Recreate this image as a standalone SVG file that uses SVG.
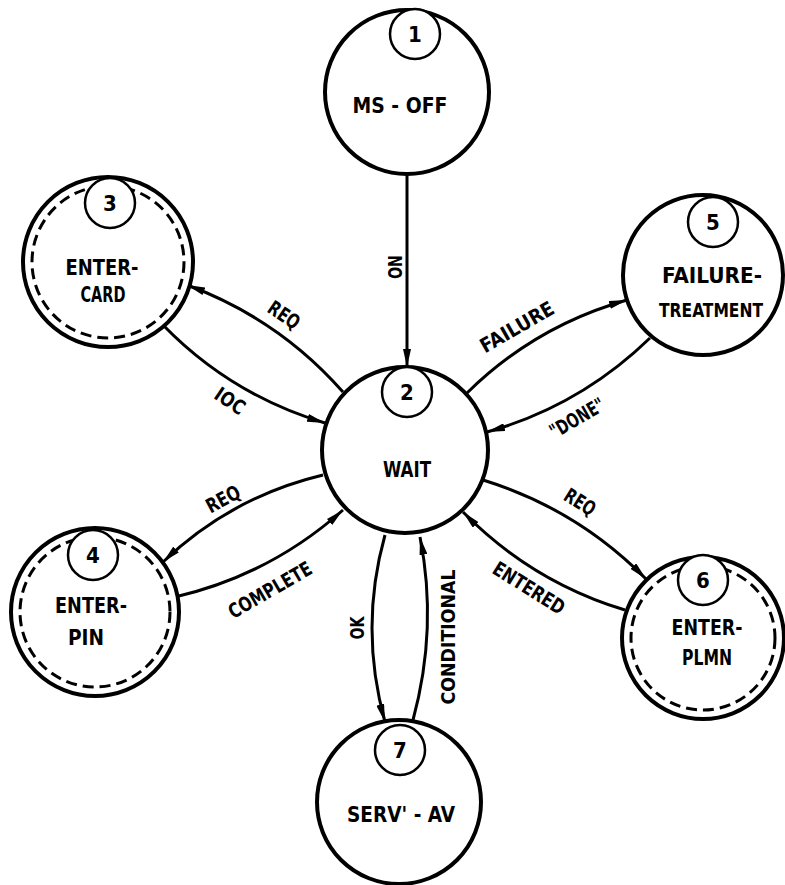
<svg xmlns="http://www.w3.org/2000/svg" width="785" height="885" viewBox="0 0 785 885">
<style>
.main{fill:#fff;stroke:#000;stroke-width:4}
.dash{fill:none;stroke:#000;stroke-width:3;stroke-dasharray:11 6}
.num{fill:#fff;stroke:#000;stroke-width:2.5}
text{font-family:"DejaVu Sans Condensed","DejaVu Sans","Liberation Sans",sans-serif;font-stretch:condensed;font-weight:bold;fill:#000}
.nl{font-size:22px;text-anchor:middle}
.nn{font-size:22px;text-anchor:middle}
.el{font-size:20px;text-anchor:middle}
.edge{fill:none;stroke:#000;stroke-width:3;marker-end:url(#arr)}
</style>
<defs>
<marker id="arr" viewBox="0 0 18 8" refX="18" refY="4" markerWidth="18" markerHeight="8" markerUnits="userSpaceOnUse" orient="auto">
<path d="M0,0 L18,4 L0,8 z" fill="#000"/>
</marker>
</defs>

<g id="connectors">
<path class="edge" d="M407,174 L407,367"/>
<path class="edge" d="M343,392 Q279,319 187,285"/>
<path class="edge" d="M163,325 Q231,395 325,423"/>
<path class="edge" d="M467,393 Q535,326 627,300"/>
<path class="edge" d="M650,338 Q580,406 487,432"/>
<path class="edge" d="M323,475 Q231,497 163,562"/>
<path class="edge" d="M175,597 Q270,575 343,510"/>
<path class="edge" d="M483,480 Q577,509 646,579"/>
<path class="edge" d="M625,610 Q532,582 463,512"/>
<path class="edge" d="M385,535 Q359,628 385,722"/>
<path class="edge" d="M413,720 Q438,628 420,537"/>
<g id="edge-labels">
<text class="el" transform="translate(395,267) rotate(-90)" y="7" textLength="24" lengthAdjust="spacingAndGlyphs">ON</text>
<text class="el" transform="translate(284,315) rotate(34)" y="7" textLength="34" lengthAdjust="spacingAndGlyphs">REQ</text>
<text class="el" transform="translate(230,401) rotate(34)" y="7" textLength="32" lengthAdjust="spacingAndGlyphs">IOC</text>
<text class="el" transform="translate(517,327) rotate(-30)" y="7" textLength="82" lengthAdjust="spacingAndGlyphs">FAILURE</text>
<text class="el" transform="translate(577,418) rotate(-30)" y="7" textLength="60" lengthAdjust="spacingAndGlyphs">"DONE"</text>
<text class="el" transform="translate(223,499) rotate(-28)" y="7" textLength="36" lengthAdjust="spacingAndGlyphs">REQ</text>
<text class="el" transform="translate(270,590) rotate(-30)" y="7" textLength="93" lengthAdjust="spacingAndGlyphs">COMPLETE</text>
<text class="el" transform="translate(580,502) rotate(32)" y="7" textLength="33" lengthAdjust="spacingAndGlyphs">REQ</text>
<text class="el" transform="translate(529,588) rotate(32)" y="7" textLength="81" lengthAdjust="spacingAndGlyphs">ENTERED</text>
<text class="el" transform="translate(357,628) rotate(-90)" y="7" textLength="23" lengthAdjust="spacingAndGlyphs">OK</text>
<text class="el" transform="translate(448,637) rotate(-90)" y="7" textLength="135" lengthAdjust="spacingAndGlyphs">CONDITIONAL</text>
</g>
</g>

<g id="node1">
<circle class="main" cx="407" cy="92" r="82"/>
<circle class="num" cx="415" cy="34" r="25"/>
<text class="nn" x="415" y="42">1</text>
<text class="nl" x="400" y="113" textLength="95" lengthAdjust="spacingAndGlyphs">MS - OFF</text>
</g>

<g id="node2">
<circle class="main" cx="405" cy="450" r="83"/>
<circle class="num" cx="407" cy="392" r="25"/>
<text class="nn" x="407" y="400">2</text>
<text class="nl" x="407" y="477" textLength="48" lengthAdjust="spacingAndGlyphs">WAIT</text>
</g>

<g id="node3">
<circle class="main" cx="108" cy="262" r="85"/>
<circle class="dash" cx="108" cy="262" r="76"/>
<circle class="num" cx="110" cy="203" r="25"/>
<text class="nn" x="110" y="211">3</text>
<text class="nl" x="102" y="275" textLength="73" lengthAdjust="spacingAndGlyphs">ENTER-</text>
<text class="nl" x="103" y="302" textLength="45" lengthAdjust="spacingAndGlyphs">CARD</text>
</g>

<g id="node4">
<circle class="main" cx="95" cy="612" r="84"/>
<circle class="dash" cx="95" cy="612" r="75"/>
<circle class="num" cx="93" cy="555" r="25"/>
<text class="nn" x="93" y="563">4</text>
<text class="nl" x="91" y="613" textLength="72" lengthAdjust="spacingAndGlyphs">ENTER-</text>
<text class="nl" x="86" y="645" textLength="36" lengthAdjust="spacingAndGlyphs">PIN</text>
</g>

<g id="node5">
<circle class="main" cx="703" cy="275" r="80"/>
<circle class="num" cx="713" cy="222" r="25"/>
<text class="nn" x="713" y="230">5</text>
<text class="nl" x="712" y="283" textLength="100" lengthAdjust="spacingAndGlyphs">FAILURE-</text>
<text class="nl" x="711" y="317" style="font-size:20px" textLength="104" lengthAdjust="spacingAndGlyphs">TREATMENT</text>
</g>

<g id="node6">
<circle class="main" cx="703" cy="638" r="81"/>
<circle class="dash" cx="703" cy="638" r="72"/>
<circle class="num" cx="703" cy="580" r="25"/>
<text class="nn" x="703" y="588">6</text>
<text class="nl" x="707" y="635" textLength="71" lengthAdjust="spacingAndGlyphs">ENTER-</text>
<text class="nl" x="707" y="665" textLength="50" lengthAdjust="spacingAndGlyphs">PLMN</text>
</g>

<g id="node7">
<circle class="main" cx="399" cy="802" r="82"/>
<circle class="num" cx="400" cy="750" r="25"/>
<text class="nn" x="400" y="758">7</text>
<text class="nl" x="401" y="822" textLength="108" lengthAdjust="spacingAndGlyphs">SERV' - AV</text>
</g>
</svg>
